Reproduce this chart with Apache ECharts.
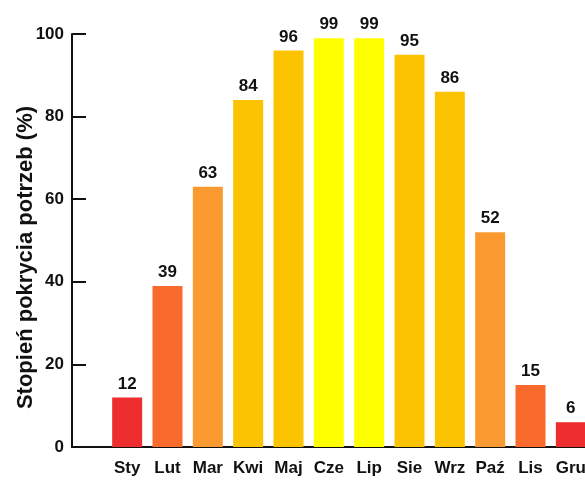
<!DOCTYPE html>
<html>
<head>
<meta charset="utf-8">
<script src="https://cdn.jsdelivr.net/npm/echarts@6/dist/echarts.min.js"></script>
<style>
  html, body { margin: 0; padding: 0; background: #fff; }
  #chart { width: 585px; height: 488px; }
</style>
</head>
<body>
<div id="chart"></div>
<script>
// miesiące i stopień pokrycia potrzeb (%)
const months = ['Sty', 'Lut', 'Mar', 'Kwi', 'Maj', 'Cze', 'Lip', 'Sie', 'Wrz', 'Paź', 'Lis', 'Gru'];
const coverage = [12, 39, 63, 84, 96, 99, 99, 95, 86, 52, 15, 6];
const yTicks = [0, 20, 40, 60, 80, 100];

const barColors = ['#ee2e2e', '#f86b2c', '#fa9a30', '#fcc300', '#fcc300', '#ffff00',
                   '#ffff00', '#fcc300', '#fcc300', '#fa9a30', '#f86b2c', '#ee2e2e'];

const font = "'Liberation Sans', Arial, sans-serif";

const chart = echarts.init(document.getElementById('chart'));

const option = {
  backgroundColor: '#fff',
  animation: false,
  grid: [
    // osie
    { left: 72, right: 0, top: 34, bottom: 41, outerBoundsMode: 'none' },
    // słupki (wychodzą poza prawą krawędź)
    { left: 107, width: 484, top: 34, bottom: 41, outerBoundsMode: 'none' }
  ],
  xAxis: [
    {
      gridIndex: 0,
      type: 'category',
      data: months,
      axisLine: { lineStyle: { color: '#111', width: 2 } },
      axisTick: { show: false },
      axisLabel: { show: false }
    },
    {
      gridIndex: 1,
      type: 'category',
      data: months,
      axisLine: { show: false },
      axisTick: { show: false },
      axisLabel: {
        interval: 0,
        color: '#111',
        fontFamily: font,
        fontWeight: 'bold',
        fontSize: 17,
        margin: 13
      }
    }
  ],
  yAxis: [
    {
      gridIndex: 0,
      type: 'value',
      min: yTicks[0],
      max: yTicks[yTicks.length - 1],
      interval: yTicks[1] - yTicks[0],
      name: 'Stopień pokrycia potrzeb (%)',
      nameLocation: 'middle',
      nameGap: 35,
      nameRotate: 90,
      nameMoveOverlap: false,
      nameTextStyle: {
        color: '#111',
        fontFamily: font,
        fontWeight: 'bold',
        fontSize: 22,
        padding: [0, 34, 0, 0]
      },
      axisLine: { show: true, lineStyle: { color: '#111', width: 2 } },
      axisTick: { show: true, inside: true, length: 14, lineStyle: { color: '#111', width: 2 } },
      axisLabel: {
        color: '#111',
        fontFamily: font,
        fontWeight: 'bold',
        fontSize: 17,
        margin: 8
      },
      splitLine: { show: false }
    },
    {
      gridIndex: 1,
      type: 'value',
      min: yTicks[0],
      max: yTicks[yTicks.length - 1],
      show: false
    }
  ],
  series: [
    {
      type: 'bar',
      xAxisIndex: 1,
      yAxisIndex: 1,
      data: coverage.map((v, i) => ({ value: v, itemStyle: { color: barColors[i] } })),
      barWidth: 30,
      label: {
        show: true,
        position: 'top',
        distance: 5,
        color: '#111',
        fontFamily: font,
        fontWeight: 'bold',
        fontSize: 17
      }
    }
  ]
};

chart.setOption(option);
</script>
</body>
</html>
